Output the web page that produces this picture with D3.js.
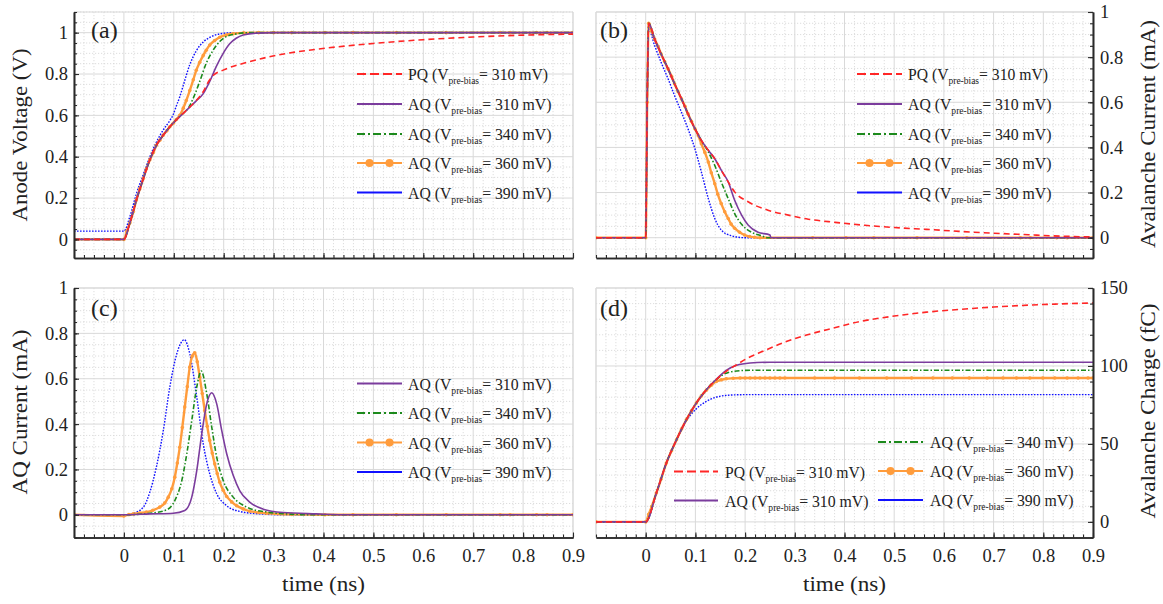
<!DOCTYPE html>
<html><head><meta charset="utf-8">
<script src="https://cdn.jsdelivr.net/npm/d3@7"></script>
<style>
body{margin:0;background:#fff}
svg text{font-family:"Liberation Serif","Times New Roman",serif;fill:#222}
</style>
</head><body>
<svg id="chart" width="1163" height="604"></svg>
<script>
// ---------- tick values ----------
const timeTickValues = [0,0.1,0.2,0.3,0.4,0.5,0.6,0.7,0.8,0.9];
const voltTickValues = [0,0.2,0.4,0.6,0.8,1];
const currentTickValues = [0,0.2,0.4,0.6,0.8,1];
const chargeTickValues = [0,50,100,150];

// ---------- series labels ----------
const seriesKeys = ["PQ","AQ310","AQ340","AQ360","AQ390"];
const seriesPrefix = ["PQ (V","AQ (V","AQ (V","AQ (V","AQ (V"];
const seriesSuffix = ["= 310 mV)","= 310 mV)","= 340 mV)","= 360 mV)","= 390 mV)"];

// ---------- (a) anode voltage [time ns, V] ----------
const anodePQ = [[-0.1,0],[0,0],[0.012,0.08],[0.025,0.19],[0.039,0.295],[0.052,0.385],[0.065,0.455],[0.079,0.505],[0.092,0.545],[0.105,0.578],[0.119,0.61],[0.132,0.64],[0.145,0.672],[0.159,0.715],[0.17,0.765],[0.18,0.795],[0.2,0.82],[0.24,0.852],[0.28,0.877],[0.32,0.897],[0.37,0.915],[0.43,0.932],[0.5,0.948],[0.6,0.966],[0.7,0.979],[0.8,0.988],[0.9,0.993]];
const anodeAQ310 = [[-0.1,0],[0,0],[0.012,0.08],[0.025,0.19],[0.039,0.295],[0.052,0.385],[0.065,0.455],[0.079,0.505],[0.092,0.545],[0.105,0.578],[0.119,0.61],[0.132,0.64],[0.145,0.67],[0.159,0.705],[0.172,0.764],[0.185,0.836],[0.199,0.9],[0.212,0.946],[0.225,0.973],[0.239,0.989],[0.265,0.998],[0.3,1],[0.9,1]];
const anodeAQ340 = [[-0.1,0],[0,0],[0.012,0.08],[0.025,0.19],[0.039,0.295],[0.052,0.385],[0.065,0.455],[0.079,0.505],[0.092,0.545],[0.105,0.578],[0.119,0.61],[0.13,0.638],[0.139,0.683],[0.152,0.764],[0.165,0.852],[0.179,0.916],[0.192,0.957],[0.205,0.981],[0.225,0.994],[0.25,1],[0.9,1]];
const anodeAQ360 = [[-0.1,0],[0,0],[0.006,0.04],[0.012,0.08],[0.019,0.135],[0.025,0.19],[0.032,0.245],[0.039,0.295],[0.045,0.34],[0.052,0.385],[0.059,0.42],[0.065,0.455],[0.072,0.48],[0.079,0.505],[0.086,0.525],[0.092,0.545],[0.099,0.562],[0.105,0.58],[0.112,0.6],[0.119,0.635],[0.125,0.672],[0.132,0.72],[0.139,0.772],[0.145,0.818],[0.152,0.857],[0.159,0.89],[0.165,0.915],[0.172,0.94],[0.182,0.962],[0.192,0.978],[0.205,0.989],[0.219,0.995],[0.24,0.999],[0.27,1],[0.3,1],[0.336,1],[0.403,1],[0.459,1],[0.546,1],[0.646,1],[0.754,1],[0.774,1],[0.827,1],[0.848,1],[0.9,1]];
const anodeAQ390 = [[-0.1,0.04],[0,0.04],[0.012,0.11],[0.025,0.22],[0.039,0.315],[0.052,0.4],[0.065,0.47],[0.079,0.53],[0.092,0.575],[0.099,0.605],[0.105,0.645],[0.112,0.69],[0.119,0.745],[0.132,0.845],[0.145,0.912],[0.159,0.955],[0.172,0.977],[0.192,0.994],[0.22,1],[0.9,1]];

// ---------- (b) avalanche current [time ns, mA] ----------
const avalPQ = [[-0.1,0],[0,0],[0.003,0.6],[0.006,0.95],[0.018,0.88],[0.031,0.814],[0.045,0.748],[0.058,0.682],[0.072,0.615],[0.085,0.549],[0.099,0.483],[0.112,0.431],[0.126,0.387],[0.139,0.35],[0.152,0.299],[0.166,0.247],[0.179,0.203],[0.206,0.159],[0.246,0.122],[0.287,0.1],[0.327,0.082],[0.381,0.068],[0.441,0.055],[0.5,0.045],[0.565,0.037],[0.63,0.028],[0.7,0.02],[0.77,0.013],[0.834,0.007],[0.9,0.003]];
const avalAQ310 = [[-0.1,0],[0,0],[0.003,0.6],[0.006,0.95],[0.018,0.88],[0.031,0.814],[0.045,0.748],[0.058,0.682],[0.072,0.615],[0.085,0.549],[0.099,0.483],[0.112,0.431],[0.126,0.387],[0.139,0.35],[0.152,0.299],[0.166,0.247],[0.179,0.166],[0.193,0.1],[0.206,0.056],[0.226,0.024],[0.25,0.012],[0.252,0],[0.9,0]];
const avalAQ340 = [[-0.1,0],[0,0],[0.003,0.6],[0.006,0.95],[0.018,0.88],[0.031,0.814],[0.045,0.748],[0.058,0.682],[0.072,0.615],[0.085,0.549],[0.099,0.483],[0.112,0.431],[0.126,0.38],[0.139,0.32],[0.152,0.247],[0.166,0.173],[0.179,0.107],[0.193,0.059],[0.213,0.024],[0.233,0.009],[0.245,0],[0.9,0]];
const avalAQ360 = [[-0.1,0],[0,0],[0.003,0.6],[0.006,0.95],[0.012,0.915],[0.018,0.88],[0.025,0.847],[0.031,0.814],[0.038,0.781],[0.045,0.748],[0.052,0.715],[0.058,0.682],[0.065,0.648],[0.072,0.615],[0.079,0.582],[0.085,0.549],[0.092,0.516],[0.099,0.483],[0.106,0.452],[0.112,0.416],[0.119,0.378],[0.126,0.335],[0.132,0.288],[0.139,0.239],[0.145,0.193],[0.152,0.151],[0.159,0.115],[0.166,0.085],[0.172,0.06],[0.179,0.042],[0.189,0.024],[0.199,0.012],[0.209,0.005],[0.219,0.002],[0.23,0],[0.336,0],[0.403,0],[0.459,0],[0.546,0],[0.646,0],[0.754,0],[0.774,0],[0.827,0],[0.848,0],[0.9,0]];
const avalAQ390 = [[-0.1,0],[0,0],[0.003,0.6],[0.006,0.925],[0.018,0.851],[0.031,0.777],[0.045,0.704],[0.058,0.63],[0.072,0.556],[0.085,0.483],[0.099,0.394],[0.112,0.291],[0.126,0.173],[0.139,0.085],[0.152,0.034],[0.172,0.009],[0.199,0],[0.9,0]];

// ---------- (c) AQ current [time ns, mA] ----------
const aqCurAQ310 = [[-0.1,0],[0,0],[0.052,0.004],[0.099,0.007],[0.122,0.019],[0.136,0.078],[0.146,0.195],[0.156,0.357],[0.166,0.489],[0.176,0.538],[0.186,0.489],[0.196,0.372],[0.206,0.269],[0.219,0.174],[0.232,0.107],[0.252,0.056],[0.279,0.025],[0.319,0.01],[0.386,0.004],[0.45,0],[0.9,0]];
const aqCurAQ340 = [[-0.1,0],[0,0],[0.052,0.007],[0.086,0.022],[0.102,0.063],[0.116,0.151],[0.126,0.269],[0.136,0.416],[0.146,0.563],[0.155,0.634],[0.166,0.534],[0.176,0.387],[0.186,0.254],[0.199,0.151],[0.219,0.078],[0.246,0.034],[0.286,0.012],[0.326,0.004],[0.38,0],[0.9,0]];
const aqCurAQ360 = [[-0.1,0],[0,-0.005],[0.01,0.001],[0.019,0.004],[0.032,0.008],[0.045,0.012],[0.058,0.02],[0.072,0.034],[0.082,0.052],[0.089,0.078],[0.096,0.115],[0.102,0.166],[0.107,0.228],[0.112,0.298],[0.117,0.385],[0.122,0.475],[0.127,0.565],[0.132,0.651],[0.137,0.7],[0.142,0.714],[0.147,0.675],[0.152,0.607],[0.157,0.535],[0.162,0.46],[0.167,0.39],[0.172,0.328],[0.177,0.272],[0.182,0.225],[0.187,0.182],[0.192,0.144],[0.199,0.108],[0.206,0.081],[0.216,0.057],[0.226,0.04],[0.239,0.026],[0.252,0.016],[0.27,0.01],[0.286,0.007],[0.336,0.002],[0.403,0],[0.459,0],[0.546,0],[0.646,0],[0.754,0],[0.774,0],[0.827,0],[0.848,0],[0.9,0]];
const aqCurAQ390 = [[-0.1,0],[0,0],[0.019,0.007],[0.039,0.034],[0.052,0.1],[0.065,0.21],[0.079,0.372],[0.092,0.563],[0.106,0.71],[0.121,0.772],[0.132,0.71],[0.146,0.519],[0.159,0.313],[0.172,0.181],[0.186,0.093],[0.206,0.04],[0.232,0.015],[0.272,0.004],[0.32,0],[0.9,0]];

// ---------- (d) avalanche charge [time ns, fC] ----------
const chargePQ = [[-0.1,0],[0,0],[0.0215,18.6],[0.0416,37.8],[0.062,52.7],[0.082,65.6],[0.102,76.3],[0.122,84.8],[0.142,91.2],[0.162,96.6],[0.183,100.8],[0.203,104.7],[0.236,109.4],[0.276,114.8],[0.32,119.5],[0.38,124.5],[0.431,128.5],[0.5,132],[0.565,134.5],[0.632,136.3],[0.7,137.8],[0.77,139],[0.834,139.8],[0.9,140.4]];
const chargeAQ310 = [[-0.1,0],[0,0],[0.0215,18.6],[0.0416,37.8],[0.062,52.7],[0.082,65.6],[0.102,76.3],[0.122,84.8],[0.142,91.5],[0.162,97.2],[0.183,100.4],[0.21,101.9],[0.25,102.4],[0.9,102.4]];
const chargeAQ340 = [[-0.1,0],[0,0],[0.0215,18.6],[0.0416,37.8],[0.062,52.7],[0.082,65.6],[0.102,76.3],[0.122,84.8],[0.142,91.3],[0.162,95.4],[0.19,97],[0.22,97.3],[0.9,97.3]];
const chargeAQ360 = [[-0.1,0],[0,0],[0.006,4.8],[0.012,9.8],[0.0215,18.6],[0.031,27.5],[0.0416,37.8],[0.052,45.6],[0.062,52.7],[0.072,59.5],[0.082,65.6],[0.092,71.2],[0.102,76.3],[0.112,80.8],[0.122,84.5],[0.132,87.6],[0.142,90],[0.152,91.1],[0.162,91.8],[0.176,92.1],[0.19,92.3],[0.2,92.3],[0.21,92.3],[0.22,92.3],[0.23,92.3],[0.24,92.3],[0.25,92.3],[0.26,92.3],[0.27,92.3],[0.28,92.3],[0.34,92.3],[0.38,92.3],[0.43,92.3],[0.485,92.3],[0.535,92.3],[0.578,92.3],[0.617,92.3],[0.651,92.3],[0.687,92.3],[0.719,92.3],[0.746,92.3],[0.773,92.3],[0.799,92.3],[0.823,92.3],[0.848,92.3],[0.87,92.3],[0.89,92.3],[0.9,92.3]];
const chargeAQ390 = [[-0.1,0],[0,0],[0.0215,18.6],[0.0416,37.8],[0.062,52.5],[0.082,64.8],[0.102,72.6],[0.122,77.3],[0.142,80],[0.169,81.3],[0.2,81.6],[0.9,81.6]];

// ---------- styles ----------
const plotStyle = {
  PQ:    {color:"#ff2626", dash:"6,4",         width:1.6},
  AQ310: {color:"#7b3c9d", dash:null,          width:1.6},
  AQ340: {color:"#1c8a1c", dash:"5,2,1.5,2",   width:1.6},
  AQ360: {color:"#ff9c3c", dash:null,          width:2.4, marker:true},
  AQ390: {color:"#1010ff", dash:"1.6,1.4",     width:1.4}
};
const legendStyle = {
  PQ:    {color:"#ff2626", dash:"9,4",   width:2},
  AQ310: {color:"#7b3c9d", dash:null,    width:2},
  AQ340: {color:"#1c8a1c", dash:"8,3,2,3", width:2},
  AQ360: {color:"#ff9c3c", dash:null,    width:2, marker:true},
  AQ390: {color:"#1010ff", dash:null,    width:2}
};
const drawOrder = ["AQ390","AQ360","AQ340","AQ310","PQ"];

const FONT = '"Liberation Serif","Times New Roman",serif';
const svg = d3.select("#chart");
const TICK_FS = 18.5, TITLE_FS = 21, LEG_FS = 16.5, SUB_FS = 10, PANEL_FS = 24;

const panels = [
  {id:"a", xr:[74,573], yr:[258,12], yd:[-0.09,1.1], side:"left", yTicks:voltTickValues, yMinor:0.05, xLabels:false,
   label:"(a)", lx:91, ly:38, title:"Anode Voltage (V)", titleLen:173, tx:26.5, ty:135,
   data:{PQ:anodePQ,AQ310:anodeAQ310,AQ340:anodeAQ340,AQ360:anodeAQ360,AQ390:anodeAQ390},
   legend:[["PQ",357,402,408,74],["AQ310",357,402,408,104],["AQ340",357,402,408,134],["AQ360",357,402,408,163],["AQ390",357,402,408,192.5]]},
  {id:"b", xr:[596,1093], yr:[258,12], yd:[-0.09,1], side:"right", yTicks:currentTickValues, yMinor:0.05, xLabels:false,
   label:"(b)", lx:600, ly:38, title:"Avalanche Current (mA)", titleLen:228, tx:1155, ty:134,
   data:{PQ:avalPQ,AQ310:avalAQ310,AQ340:avalAQ340,AQ360:avalAQ360,AQ390:avalAQ390},
   legend:[["PQ",857,902,908,74],["AQ310",857,902,908,104],["AQ340",857,902,908,134],["AQ360",857,902,908,163],["AQ390",857,902,908,192.5]]},
  {id:"c", xr:[74,573], yr:[537.5,288], yd:[-0.1,1], side:"left", yTicks:currentTickValues, yMinor:0.05, xLabels:true,
   label:"(c)", lx:91, ly:316, title:"AQ Current (mA)", titleLen:165, tx:26.5, ty:412,
   data:{AQ310:aqCurAQ310,AQ340:aqCurAQ340,AQ360:aqCurAQ360,AQ390:aqCurAQ390},
   legend:[["AQ310",357,402,408,383.5],["AQ340",357,402,408,413],["AQ360",357,402,408,442.5],["AQ390",357,402,408,472]]},
  {id:"d", xr:[596,1093], yr:[537.5,288], yd:[-10,150], side:"right", yTicks:chargeTickValues, yMinor:10, xLabels:true,
   label:"(d)", lx:600, ly:316, title:"Avalanche Charge (fC)", titleLen:215, tx:1155, ty:411,
   data:{PQ:chargePQ,AQ310:chargeAQ310,AQ340:chargeAQ340,AQ360:chargeAQ360,AQ390:chargeAQ390},
   legend:[["PQ",674,718,725,471.5],["AQ310",674,718,725,500.5],["AQ340",878,923,930,442],["AQ360",878,923,930,471],["AQ390",878,923,930,500]]}
];

const timeDomain = [-0.1, 0.9];
const xMinorStep = 0.02;

function stepTicks(d0, d1, step){
  const a = Math.ceil(d0/step - 1e-9), b = Math.floor(d1/step + 1e-9);
  return d3.range(a, b+1).map(i => +(i*step).toFixed(6));
}

panels.forEach(p => {
  const x = d3.scaleLinear().domain(timeDomain).range(p.xr);
  const y = d3.scaleLinear().domain(p.yd).range(p.yr);
  const g = svg.append("g").attr("font-family", FONT);
  const [L,R] = p.xr, [B,T] = p.yr;

  svg.append("clipPath").attr("id","clip-"+p.id).append("rect")
     .attr("x",L).attr("y",T).attr("width",R-L).attr("height",B-T);

  // grid
  const grid = g.append("g");
  const xMin = stepTicks(timeDomain[0], timeDomain[1], xMinorStep);
  const xMaj = stepTicks(timeDomain[0], timeDomain[1], 0.1);
  const yMaj = p.yTicks;
  const yMin = stepTicks(p.yd[0], p.yd[1], p.yMinor);
  const isMaj = (v, arr) => arr.some(a => Math.abs(a-v) < 1e-6);
  grid.selectAll(".vx").data(xMin.filter(v => !isMaj(v, xMaj))).join("line")
    .attr("x1", d=>x(d)).attr("x2", d=>x(d)).attr("y1",T).attr("y2",B)
    .attr("stroke","#d4d4d4").attr("stroke-width",0.8).attr("stroke-dasharray","1.2,1.8");
  grid.selectAll(".hy").data(yMin.filter(v => !isMaj(v, yMaj))).join("line")
    .attr("x1",L).attr("x2",R).attr("y1", d=>y(d)).attr("y2", d=>y(d))
    .attr("stroke","#d4d4d4").attr("stroke-width",0.8).attr("stroke-dasharray","1.2,1.8");
  grid.selectAll(".vX").data(xMaj).join("line")
    .attr("x1", d=>x(d)).attr("x2", d=>x(d)).attr("y1",T).attr("y2",B)
    .attr("stroke","#d9d9d9").attr("stroke-width",1);
  grid.selectAll(".hY").data(yMaj).join("line")
    .attr("x1",L).attr("x2",R).attr("y1", d=>y(d)).attr("y2", d=>y(d))
    .attr("stroke","#d9d9d9").attr("stroke-width",1);
  grid.append("line").attr("x1",L).attr("x2",R).attr("y1",T).attr("y2",T).attr("stroke","#d9d9d9");
  const fx = p.side === "left" ? R : L;
  grid.append("line").attr("x1",fx).attr("x2",fx).attr("y1",T).attr("y2",B).attr("stroke","#d9d9d9");

  // series
  const lineGen = d3.line().x(d=>x(d[0])).y(d=>y(d[1])).curve(d3.curveMonotoneX);
  const sg = g.append("g").attr("clip-path","url(#clip-"+p.id+")");
  drawOrder.forEach(k => {
    const data = p.data[k]; if (!data) return;
    const st = plotStyle[k];
    sg.append("path").datum(data).attr("d", lineGen).attr("fill","none")
      .attr("stroke", st.color).attr("stroke-width", st.width)
      .attr("stroke-dasharray", st.dash).attr("stroke-linejoin","round");
    if (st.marker) {
      sg.selectAll(null).data(data).join("circle")
        .attr("cx", d=>x(d[0])).attr("cy", d=>y(d[1])).attr("r",1.8).attr("fill", st.color);
    }
  });

  // axes
  const ax = g.append("g");
  const xAxis = d3.axisBottom(x).tickValues(timeTickValues).tickSizeInner(-5).tickSizeOuter(0)
    .tickPadding(11.5).tickFormat(p.xLabels ? d3.format("~g") : () => "");
  const xAxisMinor = d3.axisBottom(x).tickValues(xMin).tickSizeInner(-3).tickSizeOuter(0).tickFormat(() => "");
  ax.append("g").attr("transform",`translate(0,${B})`).call(xAxisMinor);
  ax.append("g").attr("transform",`translate(0,${B})`).call(xAxis);
  const yAx = p.side === "left" ? d3.axisLeft : d3.axisRight;
  const yAxis = yAx(y).tickValues(yMaj).tickSizeInner(-5).tickSizeOuter(0).tickPadding(p.side==="left"?6:7).tickFormat(d3.format("~g"));
  const yAxisMinor = yAx(y).tickValues(yMin).tickSizeInner(-3).tickSizeOuter(0).tickFormat(() => "");
  const yX = p.side === "left" ? L : R;
  ax.append("g").attr("transform",`translate(${yX},0)`).call(yAxisMinor);
  ax.append("g").attr("transform",`translate(${yX},0)`).call(yAxis);
  ax.selectAll("g").attr("font-family", FONT).attr("font-size", TICK_FS);
  ax.selectAll(".domain").attr("stroke","#2a2a2a").attr("stroke-width",1.6);
  ax.selectAll(".tick line").attr("stroke","#2a2a2a").attr("stroke-width",1.1);
  ax.selectAll(".tick text").style("font-size", TICK_FS+"px").attr("fill","#222");

  // panel label
  g.append("text").attr("x",p.lx).attr("y",p.ly).style("font-size",PANEL_FS+"px").text(p.label);
  // axis title
  g.append("text").attr("transform",`translate(${p.tx},${p.ty}) rotate(-90)`)
    .attr("text-anchor","middle").style("font-size",TITLE_FS+"px")
    .attr("textLength", p.titleLen).attr("lengthAdjust","spacingAndGlyphs").text(p.title);
  if (p.xLabels) {
    g.append("text").attr("x",(L+R)/2).attr("y",591).attr("text-anchor","middle")
      .style("font-size",TITLE_FS+"px").attr("textLength",83).attr("lengthAdjust","spacingAndGlyphs")
      .text("time (ns)");
  }

  // legend
  const lg = g.append("g");
  p.legend.forEach(([k,x0,x1,tx,ly]) => {
    const st = legendStyle[k];
    const i = seriesKeys.indexOf(k);
    lg.append("line").attr("x1",x0).attr("x2",x1).attr("y1",ly).attr("y2",ly)
      .attr("stroke",st.color).attr("stroke-width",st.width).attr("stroke-dasharray",st.dash);
    if (st.marker) {
      [x0+12.5, x1-12.5].forEach(cx => lg.append("circle").attr("cx",cx).attr("cy",ly).attr("r",4).attr("fill",st.color));
    }
    const t = lg.append("text").attr("x",tx).attr("y",ly+6).style("font-size",LEG_FS+"px")
      .attr("textLength", k === "PQ" ? 140 : 143.5).attr("lengthAdjust","spacingAndGlyphs");
    t.append("tspan").text(seriesPrefix[i]);
    t.append("tspan").style("font-size",SUB_FS+"px").attr("dy",4).text("pre-bias");
    t.append("tspan").attr("dy",-4).text(seriesSuffix[i]);
  });
});
</script>
</body></html>
